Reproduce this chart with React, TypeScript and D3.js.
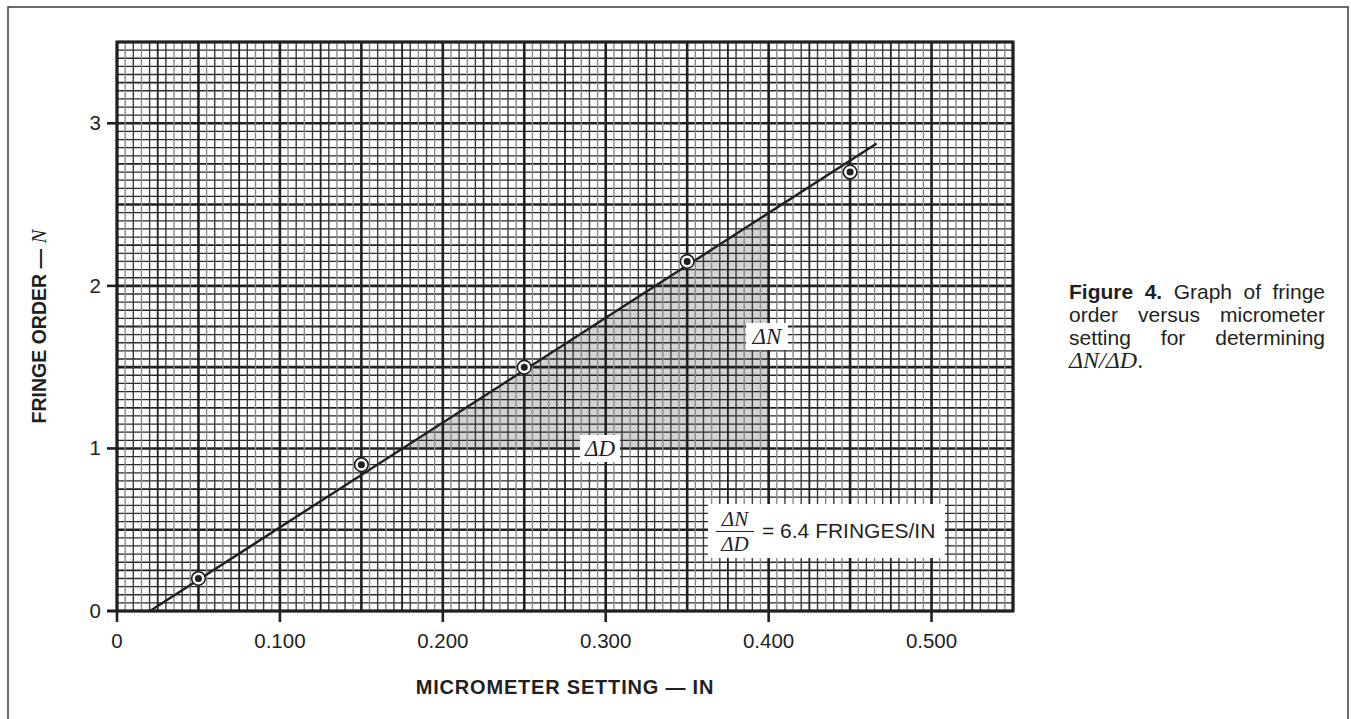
import React from 'react';
import * as d3 from 'd3';

// tick values / labels
const xTickValues = [0, 0.1, 0.2, 0.3, 0.4, 0.5];
const xTickLabels = ['0', '0.100', '0.200', '0.300', '0.400', '0.500'];
const yTickValues = [0, 1, 2, 3];
const yTickLabels = ['0', '1', '2', '3'];

// measured points
const micrometer = [0.05, 0.15, 0.25, 0.35, 0.45];
const fringeOrder = [0.2, 0.9, 1.5, 2.15, 2.7];

// fitted line ends
const fitX = [0.0202, 0.4663];
const fitY = [0, 2.876];

// shaded triangle (ΔD, ΔN)
const triX = [0.1753, 0.4, 0.4];
const triY = [1, 1, 2.449];

const captionLines = [
  ['Figure', '4.', 'Graph', 'of', 'fringe'],
  ['order', 'versus', 'micrometer'],
  ['setting', 'for', 'determining'],
];

const INK = '#231f20';
const SANS = '"Liberation Sans", Arial, Helvetica, sans-serif';
const SERIF = '"Liberation Serif", "Times New Roman", serif';

let ctx: CanvasRenderingContext2D | null = null;
function measure(text: string, font: string) {
  if (!ctx) ctx = document.createElement('canvas').getContext('2d');
  if (!ctx) return text.length * 9;
  ctx.font = font;
  return ctx.measureText(text).width;
}

export default function App() {
  const W = 1351, H = 719;
  const x = d3.scaleLinear().domain([0, 0.55]).range([117, 1013]);
  const y = d3.scaleLinear().domain([0, 3.5]).range([611, 42]);

  const vLines = d3.range(0, 111).map(i => ({ v: i * 0.005, kind: i % 10 === 0 ? 2 : i % 5 === 0 ? 1 : 0 }));
  const hLines = d3.range(0, 71).map(i => ({ v: i * 0.05, kind: i % 10 === 0 ? 2 : i % 5 === 0 ? 1 : 0 }));

  const line = d3.line<number>().x(i => x(fitX[i])).y(i => y(fitY[i]));
  const tri = d3.line<number>().x(i => x(triX[i])).y(i => y(triY[i]));

  // caption, justified
  const capFs = 21;
  const capLeft = 1069, capRight = 1325;
  const capBase = 299, capStep = 23;

  return (
    <svg width={W} height={H} style={{ position: 'absolute', left: 0, top: 0, background: '#fff' }}>
      <rect x={8} y={7} width={1340} height={730} fill="none" stroke="#3a3a3a" strokeWidth={1.5} />

      {/* shaded triangle */}
      <path d={(tri([0, 1, 2]) || '') + 'Z'} fill="#d3d3d3" stroke="none" />

      {/* grid */}
      <g>
        {hLines.map((d, i) => (
          <line key={'h' + i} x1={x(0)} x2={x(0.55)} y1={y(d.v)} y2={y(d.v)}
            stroke={d.kind ? INK : '#2a2a2a'} strokeWidth={d.kind === 2 ? 2.6 : d.kind === 1 ? 1.8 : 1.3} />
        ))}
        {vLines.map((d, i) => (
          <line key={'v' + i} x1={x(d.v)} x2={x(d.v)} y1={y(0)} y2={y(3.5)}
            stroke={d.kind ? INK : i % 2 ? '#8a8a8a' : '#3a3a3a'} strokeWidth={d.kind === 2 ? 2.6 : d.kind === 1 ? 1.8 : 1.4} />
        ))}
      </g>

      {/* frame */}
      <rect x={x(0)} y={y(3.5)} width={x(0.55) - x(0)} height={y(0) - y(3.5)} fill="none" stroke={INK} strokeWidth={3} />
      <line x1={107} x2={x(0)} y1={y(0)} y2={y(0)} stroke={INK} strokeWidth={2.6} />

      {/* ticks */}
      {xTickValues.map((v, i) => (
        <g key={'xt' + i}>
          <line x1={x(v)} x2={x(v)} y1={y(0)} y2={y(0) + 11} stroke={INK} strokeWidth={2.6} />
          <text x={x(v)} y={648} textAnchor="middle" fontFamily={SANS} fontSize={20.5} fill={INK}>{xTickLabels[i]}</text>
        </g>
      ))}
      {yTickValues.map((v, i) => (
        <g key={'yt' + i}>
          <line x1={107} x2={x(0)} y1={y(v)} y2={y(v)} stroke={INK} strokeWidth={2.6} />
          <text x={101} y={y(v) + 7} textAnchor="end" fontFamily={SANS} fontSize={20.5} fill={INK}>{yTickLabels[i]}</text>
        </g>
      ))}

      {/* fit line */}
      <path d={line([0, 1]) || ''} fill="none" stroke={INK} strokeWidth={2.4} />

      {/* points */}
      {micrometer.map((m, i) => (
        <g key={'p' + i}>
          <circle cx={x(m)} cy={y(fringeOrder[i])} r={6.8} fill="#fff" stroke={INK} strokeWidth={1.6} />
          <circle cx={x(m)} cy={y(fringeOrder[i])} r={3.5} fill={INK} />
        </g>
      ))}

      {/* ΔD / ΔN labels */}
      <rect x={580} y={435} width={40} height={27} fill="#fff" />
      <text x={600} y={456} textAnchor="middle" fontFamily={SERIF} fontStyle="italic" fontSize={23} fill={INK}>ΔD</text>
      <rect x={746} y={323} width={42} height={27} fill="#fff" />
      <text x={767} y={344} textAnchor="middle" fontFamily={SERIF} fontStyle="italic" fontSize={23} fill={INK}>ΔN</text>

      {/* equation box */}
      <rect x={708} y={504} width={237} height={54} fill="#fff" />
      <text x={735} y={526} textAnchor="middle" fontFamily={SERIF} fontStyle="italic" fontSize={21} fill={INK}>ΔN</text>
      <line x1={716} x2={754} y1={531.5} y2={531.5} stroke={INK} strokeWidth={1.2} />
      <text x={735} y={551} textAnchor="middle" fontFamily={SERIF} fontStyle="italic" fontSize={21} fill={INK}>ΔD</text>
      <text x={762} y={538} fontFamily={SANS} fontSize={21} fill={INK}>= 6.4 FRINGES/IN</text>

      {/* axis titles */}
      <text x={x(0.275)} y={694} textAnchor="middle" fontFamily={SANS} fontWeight="bold" fontSize={20} letterSpacing={0.8} fill={INK}>
        MICROMETER SETTING — IN
      </text>
      <text transform={`translate(46,${(y(0) + y(3.5)) / 2}) rotate(-90)`} textAnchor="middle" fontFamily={SANS} fontWeight="bold" fontSize={19.5} fill={INK}>
        FRINGE ORDER — <tspan fontFamily={SERIF} fontStyle="italic" fontWeight="normal" fontSize={21}>N</tspan>
      </text>

      {/* caption */}
      {captionLines.map((words, li) => {
        const bold = (wi: number) => li === 0 && wi < 2;
        const widths = words.map((w, wi) => measure(w, `${bold(wi) ? 'bold ' : ''}${capFs}px ${SANS}`));
        const gap = (capRight - capLeft - d3.sum(widths)) / (words.length - 1);
        let cx = capLeft;
        return words.map((w, wi) => {
          const px = cx;
          cx += widths[wi] + gap;
          return (
            <text key={'c' + li + wi} x={px} y={capBase + li * capStep} fontFamily={SANS} fontSize={capFs}
              fontWeight={bold(wi) ? 'bold' : 'normal'} fill={INK}>{w}</text>
          );
        });
      })}
      <text x={capLeft} y={capBase + 3 * capStep} fontFamily={SERIF} fontStyle="italic" fontSize={24} fill={INK}>
        ΔN/ΔD<tspan fontStyle="normal">.</tspan>
      </text>
    </svg>
  );
}
